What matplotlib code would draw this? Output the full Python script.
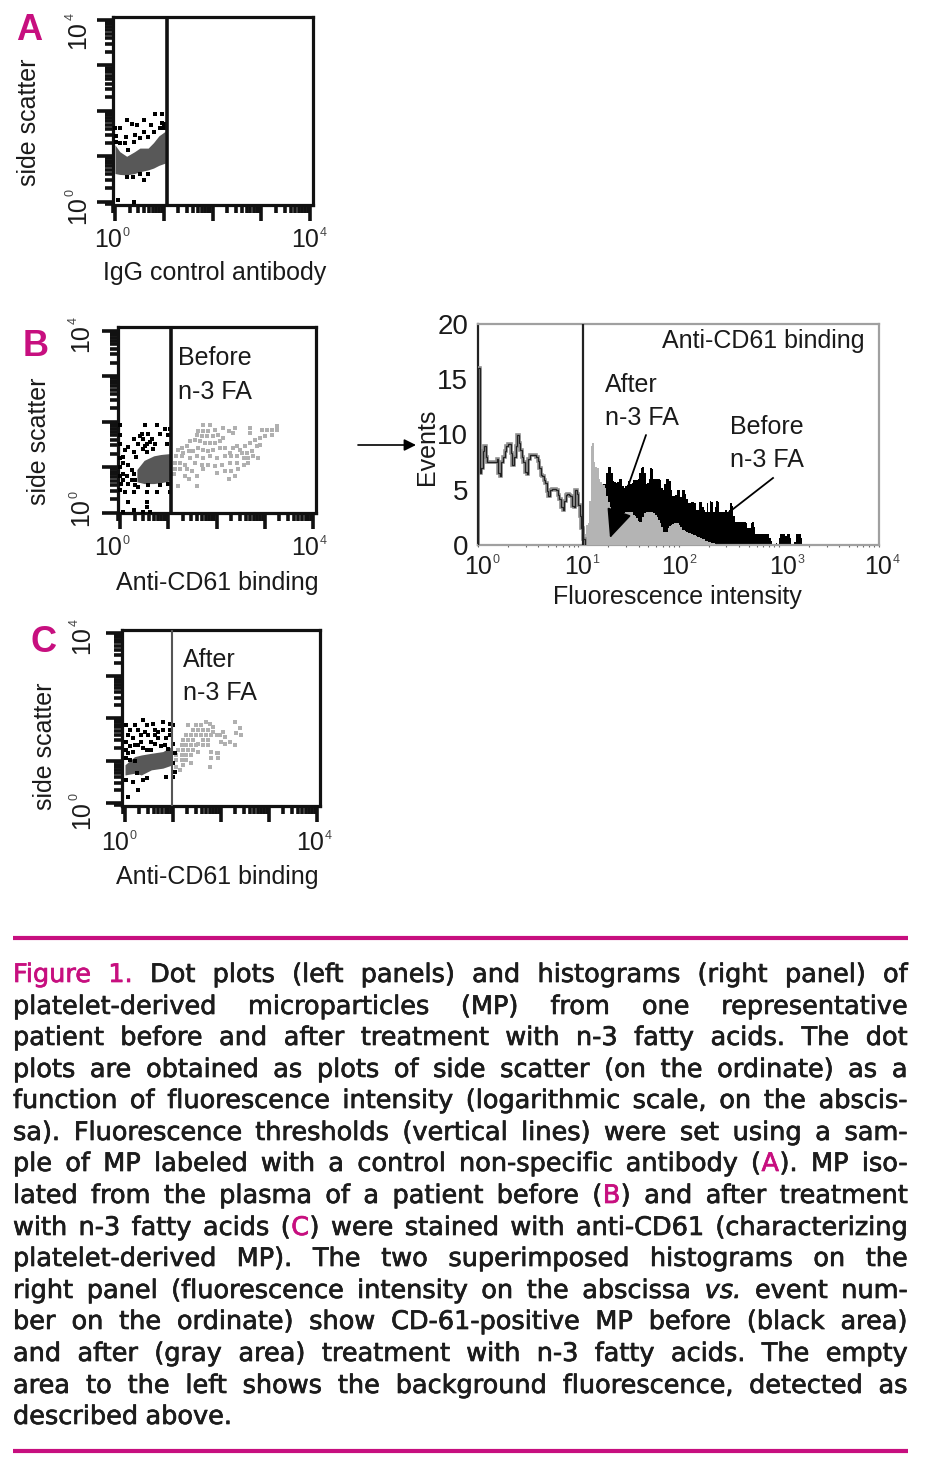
import matplotlib
matplotlib.use("Agg")
import matplotlib.pyplot as plt
import matplotlib.patheffects as pe
import numpy as np
from matplotlib.ticker import LogLocator, NullFormatter

W, H = 932, 1476
MAGENTA = "#c70f7f"

plt.rcParams["font.family"] = ["Liberation Sans", "DejaVu Sans"]

# dot plots: values are decades (log10) of fluorescence / side scatter
a_dense_x = [0, .1, .24, .4, .51, .68, .79, .9, 1.03]
a_dense_low = [.62, .6, .59, .62, .66, .7, .74, .8, .85]
a_dense_high = [1.25, 1.1, 1.0, 1.1, 1.18, 1.18, 1.3, 1.45, 1.55]
a_dots = [(.24, 1.80), (.34, 1.71), (.45, 1.69), (.60, 1.80), (.73, 1.69), (.82, 1.93), (.96, 1.93),
          (.96, 1.73), (.92, 1.62), (0, 1.62), (.10, 1.62), (.60, 1.54), (.41, 1.47), (.79, 1.54),
          (.23, 1.43), (.51, 1.40), (.68, 1.43), (.21, 1.29), (.38, 1.32), (.27, 1.14), (.24, .55),
          (.36, .55), (.60, .48), (.68, .62), (.51, .61), (.07, .04), (.38, 0), (.03, 1.45), (.03, 1.32),
          (1.0, 1.70), (1.0, 1.62), (.10, 1.30)]

b_dense_x = [.35, .5, .7, .85, 1.04]
b_dense_low = [.68, .64, .64, .66, .70]
b_dense_high = [.95, 1.15, 1.25, 1.28, 1.30]
b_dots = [(0, 1.93), (.52, 1.93), (.76, 1.93), (.93, 1.85), (1.03, 1.85), (.45, 1.74), (.59, 1.74),
          (.28, 1.63), (.48, 1.63), (.66, 1.63), (.83, 1.74), (1.0, 1.71), (.55, 1.52), (.72, 1.52),
          (.38, 1.52), (0, 1.52), (.17, 1.45), (.48, 1.41), (.69, 1.41), (.97, 1.52), (.10, 1.38),
          (.28, 1.34), (.55, 1.34), (.07, 1.23), (.34, 1.23), (.17, 1.05), (.07, .86), (.24, .94),
          (.07, .72), (.17, .64), (.31, .61), (.10, .46), (0, .50), (.28, .46), (.55, .46), (.76, .46),
          (.38, .57), (.59, .61), (.83, .61), (1.0, .64), (1.03, .46), (.17, .24), (.55, .24),
          (.55, .13), (.28, .06), (.48, .02), (.62, .02), (.07, .02), (0, 1.2), (0, 1.0), (0, .8),
          (.03, .62), (.07, 1.1), (.14, .8), (.24, .72), (.28, .85), (.31, .72), (.62, 1.55), (.52, 1.46),
          (.41, 1.68), (.0, 1.70)]
b_light = [(1.73, 1.93), (1.87, 1.93), (1.62, 1.79), (1.73, 1.79), (1.83, 1.79), (1.97, 1.82),
           (1.59, 1.71), (1.69, 1.68), (1.80, 1.68), (1.93, 1.68), (2.04, 1.71), (2.14, 1.86),
           (2.25, 1.79), (2.35, 1.75), (2.38, 1.86), (2.69, 1.86), (2.69, 1.75), (2.94, 1.82),
           (3.04, 1.82), (3.14, 1.82), (3.25, 1.90), (3.25, 1.82), (3.14, 1.71), (3.01, 1.68),
           (2.90, 1.64), (2.80, 1.60), (2.69, 1.53), (2.59, 1.46), (2.49, 1.38), (2.14, 1.64),
           (2.07, 1.57), (1.97, 1.53), (1.87, 1.53), (1.76, 1.53), (1.66, 1.57), (1.55, 1.60),
           (1.45, 1.57), (1.38, 1.46), (1.28, 1.42), (1.21, 1.38), (1.31, 1.31), (1.42, 1.35),
           (1.52, 1.35), (1.62, 1.42), (1.73, 1.38), (1.83, 1.35), (1.93, 1.38), (2.07, 1.42),
           (2.18, 1.42), (2.28, 1.31), (2.35, 1.42), (2.42, 1.46), (2.52, 1.31), (2.63, 1.31),
           (2.73, 1.35), (2.83, 1.46), (2.90, 1.49), (1.17, 1.24), (1.28, 1.24), (1.45, 1.20),
           (1.59, 1.24), (1.73, 1.20), (1.87, 1.24), (2.00, 1.20), (2.18, 1.24), (2.31, 1.24),
           (2.42, 1.24), (2.56, 1.20), (2.66, 1.20), (2.76, 1.24), (2.87, 1.20), (1.14, 1.09),
           (1.24, 1.09), (1.35, 1.05), (1.55, 1.09), (1.69, 1.05), (1.83, 1.05), (1.97, 1.02),
           (2.11, 1.05), (2.28, 1.09), (2.42, 1.09), (2.56, 1.05), (2.66, 1.09), (1.14, .95),
           (1.24, .95), (1.38, .95), (1.49, .91), (1.73, .95), (2.00, .87), (2.18, .91), (2.31, .91),
           (2.45, .95), (1.11, .84), (1.35, .80), (1.59, .80), (2.38, .80), (2.25, .73), (1.42, .73),
           (1.59, .58), (1.21, .58)]

c_dense_x = [0, .2, .34, .55, .79, .97]
c_dense_low = [.66, .70, .66, .78, .82, .89]
c_dense_high = [.90, 1.09, 1.13, 1.17, 1.21, 1.33]
c_dots = [(.03, 1.84), (.20, 1.84), (.38, 1.95), (.58, 1.87), (.79, 1.91), (.93, 1.87), (.27, 1.72),
          (.41, 1.68), (.62, 1.72), (.79, 1.72), (.93, 1.72), (.06, 1.60), (.17, 1.52), (.34, 1.60),
          (.48, 1.60), (.69, 1.52), (.86, 1.52), (.20, 1.36), (.27, 1.36), (.62, 1.40), (.83, 1.36),
          (.10, 1.33), (.17, 1.21), (.38, 1.29), (.76, 1.33), (.06, 1.17), (.34, 1.44), (.55, 1.44),
          (1.0, 1.40), (1.04, 1.17), (1.0, .93), (1.04, .74), (1.0, .62), (.86, .62), (.38, .54),
          (.45, .58), (.27, .31), (.24, .70), (.03, .54), (.06, .15), (.17, .50), (.10, 1.72),
          (.45, 1.84), (.69, 1.68), (.03, 1.44), (.93, 1.60), (.10, 1.01), (.20, 1.0), (1.0, 1.84),
          (.03, 1.25), (.03, 1.05), (.55, 1.25), (.45, 1.25), (.90, 1.28), (.62, 1.60)]
c_light = [(1.49, 1.84), (1.59, 1.84), (1.70, 1.91), (1.77, 1.87), (1.84, 1.80), (1.42, 1.72),
           (1.52, 1.72), (1.63, 1.72), (1.73, 1.72), (1.84, 1.68), (1.32, 1.84), (1.28, 1.60),
           (1.38, 1.60), (1.49, 1.60), (1.59, 1.60), (1.70, 1.60), (1.80, 1.60), (1.91, 1.60),
           (1.21, 1.48), (1.32, 1.48), (1.42, 1.48), (1.52, 1.40), (1.63, 1.48), (1.73, 1.48),
           (1.18, 1.36), (1.28, 1.36), (1.38, 1.36), (1.49, 1.36), (1.63, 1.36), (1.73, 1.36),
           (1.11, 1.25), (1.21, 1.25), (1.32, 1.25), (1.42, 1.25), (1.52, 1.21), (1.07, 1.13),
           (1.18, 1.13), (1.28, 1.13), (1.38, 1.13), (1.80, 1.21), (1.91, 1.17), (1.07, 1.01),
           (1.18, 1.01), (1.28, 1.01), (1.38, .93), (1.21, .89), (1.14, .78), (1.07, .85),
           (1.77, .85), (1.94, 1.17), (1.98, 1.60), (2.05, 1.68), (2.08, 1.56), (2.19, 1.44),
           (2.29, 1.36), (2.29, 1.91), (2.32, 1.64), (2.43, 1.60), (2.39, 1.76), (2.01, 1.44),
           (2.08, 1.40), (1.80, 1.05), (1.94, 1.05)]

# histogram: events per channel (64 channels per decade)
CHANNELS_PER_DECADE = 64
background_events = [16, 6.5, 7, 8.5, 9, 8, 7.5, 7.5, 7.5, 7.5, 7.5, 7.5, 7.8, 6.5, 6.2, 7.5, 8, 8.5, 9, 9.1,
                     9.1, 8.3, 7.2, 8, 9, 10, 9.2, 8.6, 8, 7.5, 6.6, 6.4, 7.8, 8.1, 8.1, 8.1, 8.1, 8, 7.6, 7,
                     6.3, 6.2, 5.9, 5.6, 4.9, 4.4, 5, 5.1, 5.1, 5.1, 5, 4.5, 4.2, 3.4, 3.2, 4, 4.5, 4.6, 4.5,
                     4.4, 3.5, 3.4, 5, 4.6, 3.6, 2.6, 1.5, .5]
after_start = 67
after_events = [.2, 1, 1.8, 2, 4, 9, 9.2, 7.5, 7.1, 7, 6, 5.7, 5.5, 5.4, 5.2, 4.4, 3.9, 3.4, 2.5, 2.2,
                2.3, 2.4, 2.5, 2.7, 2.8, 2.9, 2.9, 3, 3, 3, 3, 3, 2.7, 2.6, 2.4, 2.2, 2.1, 2.1, 2.5, 2.9,
                3, 3, 3, 3, 3, 2.9, 2.7, 2.5, 2.3, 2, 1.6, 1.2, 1.2, 1.2, 1.5, 1.7, 1.8, 1.9, 2, 2,
                2, 1.8, 1.6, 1.4, 1.4, 1.3, 1.2, 1.1, 1.1, 1, .9, .9, .8, .7, .7, .6, .5, .5, .4, .4,
                .3, .3, .2, .2, .1]
before_start = 80
before_events = [5.5, 5.5, 6.5, 7.1, 7.1, 6.5, 5.8, 5.7, 5.6, 5.7, 6, 6, 5.3, 5.2, 5.3, 5.4, 5.8, 5.5, 5.6, 5.9,
                 5.9, 5.9, 6, 6.5, 7, 7.1, 6.5, 5.5, 5.6, 6, 7, 6.9, 6, 6, 6, 6, 5.9, 5.2, 5, 5.5,
                 6, 6, 5.8, 5, 4.4, 4.4, 4.5, 5, 5, 4.3, 5, 5, 4.6, 4.2, 3.8, 3.8, 3.9, 3.9, 3.8, 3.2,
                 3.2, 3.9, 3.9, 3.4, 3.2, 3, 3.8,
                 3, 4, 3.9, 3, 3.4, 4, 3.9, 3, 3, 3, 3, 3.2, 3, 3.2, 3.8, 3.5, 2.6, 2.1, 2.1, 2.1,
                 2.1, 2.1, 2.1, 2.1, 2, 1.5, 1.5, 2, 2.1, 1.6, 1, 1, 1, 1, 1, 1, 1, 1, 1, .6, .4, .1, 0,
                 .2, 0, .6, 1, 1, 1, .8, 1, 1, .6, 0, 0, .3, 1, 1, 1, .6, 0]
hist_ticks = [0, 5, 10, 15, 20]

# thresholds in decades
threshold_a = 1.067
threshold_b = 1.063
threshold_c = 0.975
threshold_hist = 1.047

fig = plt.figure(figsize=(W / 100, H / 100), dpi=100)


def px_axes(left, top, right, bottom):
    return fig.add_axes([left / W, 1 - bottom / H, (right - left) / W, (bottom - top) / H])


def dot_panel(box, x_ticks_px, y_ticks_px, threshold, dense, dots, light, thr_color, thr_lw):
    left, top, right, bottom = box
    x0, x4 = x_ticks_px
    y0, y4 = y_ticks_px
    ax = px_axes(left, top, right, bottom)
    ax.set_xscale("log")
    ax.set_yscale("log")
    ax.set_xlim(10 ** ((left - x0) / (x4 - x0) * 4), 10 ** ((right - x0) / (x4 - x0) * 4))
    ax.set_ylim(10 ** ((bottom - y0) / (y4 - y0) * 4), 10 ** ((top - y0) / (y4 - y0) * 4))

    dx, low, high = dense
    ax.fill_between(10 ** np.array(dx), 10 ** np.array(low), 10 ** np.array(high), color="#585858", lw=0, zorder=2)
    if light:
        lx, ly = zip(*light)
        ax.plot(10 ** np.array(lx), 10 ** np.array(ly), ls="", marker="s", ms=3.2, color="#b0b0b0", mew=0, zorder=2)
    bx, by = zip(*dots)
    ax.plot(10 ** np.array(bx), 10 ** np.array(by), ls="", marker="s", ms=2.8, color="black", mew=0, zorder=3)
    ax.axvline(10 ** threshold, color=thr_color, lw=thr_lw, zorder=4)

    for axis in (ax.xaxis, ax.yaxis):
        axis.set_major_locator(LogLocator(base=10, numticks=6))
        axis.set_minor_locator(LogLocator(base=10, subs=np.arange(2, 10), numticks=6))
        axis.set_major_formatter(NullFormatter())
        axis.set_minor_formatter(NullFormatter())
    ax.tick_params(which="major", length=11.5, width=2.6, color="#111111")
    ax.tick_params(which="minor", length=6, width=2.6, color="#111111")
    for s in ax.spines.values():
        s.set_linewidth(2.3)
        s.set_color("#111111")
    return ax


dot_panel((112.5, 17, 312.5, 204.5), (115, 310), (201.7, 20), threshold_a,
          (a_dense_x, a_dense_low, a_dense_high), a_dots, None, "#111111", 2.6)
dot_panel((117.5, 327, 315.5, 513), (120, 313), (512.7, 330.7), threshold_b,
          (b_dense_x, b_dense_low, b_dense_high), b_dots, b_light, "#111111", 2.6)
dot_panel((121.7, 630, 320, 806), (125, 316.7), (803, 633), threshold_c,
          (c_dense_x, c_dense_low, c_dense_high), c_dots, c_light, "#555555", 1.5)

# histogram panel
hax = px_axes(478, 324, 879, 545)
edges = 10 ** (np.arange(300) / CHANNELS_PER_DECADE)
hax.set_xscale("log")
hax.set_xlim(1, 1e4)
hax.set_ylim(0, 20)
hax.stairs(before_events, edges[before_start:before_start + len(before_events) + 1],
           fill=True, color="black", lw=0, zorder=2)
hax.stairs(after_events, edges[after_start:after_start + len(after_events) + 1],
           fill=True, color="#b4b4b4", lw=0, zorder=3)
bg_edges = edges[:len(background_events) + 1]
hax.stairs(background_events, bg_edges, color="#8f8f8f", lw=2.6, zorder=4)
hax.stairs(background_events, bg_edges, color="#222222", lw=0.9, zorder=5)
hax.axvline(10 ** threshold_hist, color="#222222", lw=1.6, zorder=6)
hax.set_yticks(hist_ticks)
hax.set_yticklabels([str(v) for v in hist_ticks], fontsize=20, color="#1a1a1a")
hax.tick_params(axis="y", length=0, pad=7)
hax.xaxis.set_major_locator(LogLocator(base=10, numticks=6))
hax.xaxis.set_minor_locator(LogLocator(base=10, subs=np.arange(2, 10), numticks=6))
hax.xaxis.set_major_formatter(NullFormatter())
hax.xaxis.set_minor_formatter(NullFormatter())
hax.tick_params(axis="x", which="both", length=1.5, width=0.8, color="#666666")
for name, s in hax.spines.items():
    s.set_linewidth(1.6)
    s.set_color("#222222" if name == "left" else "#a0a0a0")

# overlay in image pixels for the labels, caption and rules
ov = fig.add_axes([0, 0, 1, 1], zorder=10)
ov.set_xlim(0, W)
ov.set_ylim(H, 0)
ov.axis("off")
ov.patch.set_alpha(0)


def label(x, y, s, size=18, rot=0, ha="center", color="#1a1a1a", **kw):
    return ov.text(x, y, s, fontsize=size, rotation=rot, ha=ha, va="center", color=color, **kw)


def decade(x, y, e, rot=0):
    # "10" with a small light exponent, as in the source figure
    if rot:
        label(x, y + 5, "10", size=18, rot=90)
        label(x - 7, y - 13, str(e), size=9, rot=90, color="#444444")
    else:
        label(x - 5, y, "10", size=18)
        label(x + 13, y - 7, str(e), size=9, color="#444444")


for s, x, y in [("A", 29, 31), ("B", 36, 346), ("C", 43, 643)]:
    label(x, y, s, size=26, color=MAGENTA, fontweight="bold")

label(29, 122, "side scatter", rot=90)
decade(78, 30, 4, rot=90)
decade(78, 205, 0, rot=90)
decade(113, 240, 0)
decade(310, 240, 4)
label(215, 273, "IgG control antibody")

label(39, 441, "side scatter", rot=90)
decade(81, 333, 4, rot=90)
decade(81, 507, 0, rot=90)
decade(113, 548, 0)
decade(310, 548, 4)
label(217, 583, "Anti-CD61 binding")
label(178, 358, "Before", ha="left")
label(178, 392, "n-3 FA", ha="left")

label(45, 746, "side scatter", rot=90)
decade(82, 635, 4, rot=90)
decade(82, 810, 0, rot=90)
decade(120, 843, 0)
decade(315, 843, 4)
label(217, 877, "Anti-CD61 binding")
label(183, 660, "After", ha="left")
label(183, 693, "n-3 FA", ha="left")

label(763, 341, "Anti-CD61 binding")
label(605, 385, "After", ha="left")
label(605, 418, "n-3 FA", ha="left")
label(730, 427, "Before", ha="left")
label(730, 460, "n-3 FA", ha="left")
label(427, 447, "Events", rot=90)
label(677, 597, "Fluorescence intensity")
for x, e in zip([483, 583, 680, 788, 883], range(5)):
    decade(x, 567, e)

ov.annotate("", xy=(610, 538), xytext=(646, 435),
            arrowprops=dict(arrowstyle="-|>,head_length=1.8,head_width=0.8", color="black", lw=1.3, shrinkA=0, shrinkB=0))
ov.plot([773, 728], [478, 513], color="black", lw=1.3)
ov.annotate("", xy=(416, 445), xytext=(358, 445),
            arrowprops=dict(arrowstyle="-|>,head_length=0.7,head_width=0.35", color="black", lw=1.2, shrinkA=0, shrinkB=0))

# caption, justified word by word; {x} is magenta, _x_ is italic
CAPTION_FONT = "DejaVu Sans"
CAPTION_SIZE = 18.4
caption_lines = [
    "{Figure} {1.} Dot plots (left panels) and histograms (right panel) of",
    "platelet-derived microparticles (MP) from one representative",
    "patient before and after treatment with n-3 fatty acids. The dot",
    "plots are obtained as plots of side scatter (on the ordinate) as a",
    "function of fluorescence intensity (logarithmic scale, on the abscis-",
    "sa). Fluorescence thresholds (vertical lines) were set using a sam-",
    "ple of MP labeled with a control non-specific antibody ({A}). MP iso-",
    "lated from the plasma of a patient before ({B}) and after treatment",
    "with n-3 fatty acids ({C}) were stained with anti-CD61 (characterizing",
    "platelet-derived MP). The two superimposed histograms on the",
    "right panel (fluorescence intensity on the abscissa _vs._ event num-",
    "ber on the ordinate) show CD-61-positive MP before (black area)",
    "and after (gray area) treatment with n-3 fatty acids. The empty",
    "area to the left shows the background fluorescence, detected as",
    "described above.",
]
caption_y = [975, 1007, 1038, 1070, 1101, 1133, 1164, 1196, 1228, 1259, 1291, 1322, 1354, 1386, 1417]
CAP_LEFT, CAP_RIGHT = 13, 908
renderer = fig.canvas.get_renderer()


def split_runs(word):
    runs = []
    buf = ""
    mode = "plain"
    for ch in word:
        if ch == "{" or (ch == "_" and mode == "plain"):
            if buf:
                runs.append((buf, mode))
            buf = ""
            mode = "color" if ch == "{" else "italic"
        elif ch == "}" or ch == "_":
            runs.append((buf, mode))
            buf = ""
            mode = "plain"
        else:
            buf += ch
    if buf:
        runs.append((buf, mode))
    return runs


def draw_run(x, y, s, mode):
    col = MAGENTA if mode == "color" else "#1c1c1c"
    t = ov.text(x, y, s, fontsize=CAPTION_SIZE, family=[CAPTION_FONT], color=col,
                style="italic" if mode == "italic" else "normal", ha="left", va="baseline")
    t.set_path_effects([pe.withStroke(linewidth=0.5, foreground=col)])
    return t


def run_width(t):
    return t.get_window_extent(renderer).width


for i, (line, y) in enumerate(zip(caption_lines, caption_y)):
    words = line.split()
    widths = []
    for w in words:
        total = 0
        for s, mode in split_runs(w):
            t = draw_run(0, y + 7, s, mode)
            total += run_width(t) + 0.5
            t.remove()
        widths.append(total)
    natural = sum(widths)
    gap = 7.0
    if i < len(caption_lines) - 1:
        gap = (CAP_RIGHT - CAP_LEFT - natural) / (len(words) - 1)
    x = CAP_LEFT
    for w, width in zip(words, widths):
        cur = x
        for s, mode in split_runs(w):
            t = draw_run(cur, y + 7, s, mode)
            cur += run_width(t) + 0.5
        x += width + gap

for y in (938, 1451):
    ov.plot([CAP_LEFT, CAP_RIGHT], [y, y], color=MAGENTA, lw=3, solid_capstyle="butt")

fig.savefig("out.png", dpi=100)
